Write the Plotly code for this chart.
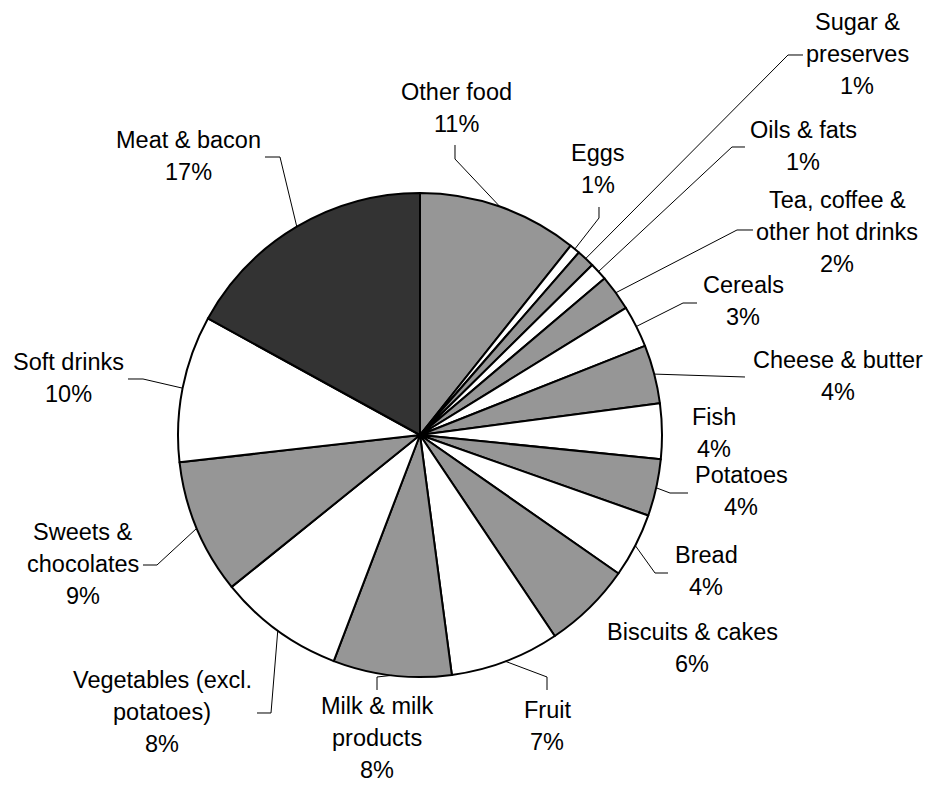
import math
import plotly.graph_objects as go

# Share of household food spending by category (per cent)
categories = [
    "Other food", "Eggs", "Sugar & preserves", "Oils & fats",
    "Tea, coffee & other hot drinks", "Cereals", "Cheese & butter", "Fish",
    "Potatoes", "Bread", "Biscuits & cakes", "Fruit", "Milk & milk products",
    "Vegetables (excl. potatoes)", "Sweets & chocolates", "Soft drinks",
    "Meat & bacon",
]
shares = [10.7, 0.7, 1.2, 1.2, 2.4, 2.8, 3.9, 3.7, 3.8, 4.3, 5.9, 7.3, 7.9,
          8.4, 9.0, 9.8, 17.0]

# Wrapped label text for each slice
label_lines = [
    ["Other food"], ["Eggs"], ["Sugar &", "preserves"], ["Oils & fats"],
    ["Tea, coffee &", "other hot drinks"], ["Cereals"], ["Cheese & butter"],
    ["Fish"], ["Potatoes"], ["Bread"], ["Biscuits & cakes"], ["Fruit"],
    ["Milk & milk", "products"], ["Vegetables (excl.", "potatoes)"],
    ["Sweets &", "chocolates"], ["Soft drinks"], ["Meat & bacon"],
]

GREY, WHITE, DARK = "#969696", "#ffffff", "#333333"
colors = [GREY, WHITE] * 8 + [DARK]

# Canvas and pie geometry (pixels)
W, H = 928, 785
CX, CY, R = 420, 435, 242
FONT_SIZE = 23.5
LINE_GAP = 32

# Label placement: centre x, y of first line, leader elbow, leader end
label_pos = [
    (456, 92, (455, 159), (455, 145)),
    (598, 153, (599, 218), (599, 207)),
    (857, 22, (788, 55), (803, 55)),
    (803, 130, (732, 147), (745, 147)),
    (837, 200, (737, 230), (753, 230)),
    (743, 285, (683, 303), (697, 303)),
    (838, 360, None, (745, 377)),
    (714, 417, None, None),
    (741, 475, (670, 493), (688, 493)),
    (706, 555, (655, 573), (668, 573)),
    (692, 632, None, None),
    (547, 710, (547, 677), (547, 690)),
    (377, 706, (377, 677), (377, 690)),
    (162, 680, (271, 713), (257, 713)),
    (83, 532, (157, 565), (143, 565)),
    (68, 362, (143, 379), (128, 379)),
    (188, 140, (280, 157), (265, 157)),
]


def px(x):
    return x / W


def py(y):
    return 1 - y / H


fig = go.Figure(
    go.Pie(
        labels=categories,
        values=shares,
        sort=False,
        direction="clockwise",
        rotation=0,
        marker=dict(colors=colors, line=dict(color="#000000", width=2)),
        textinfo="none",
        hoverinfo="label+percent",
        showlegend=False,
        domain=dict(x=[px(CX - R), px(CX + R)], y=[py(CY + R), py(CY - R)]),
    )
)

annotations = []
shapes = []
total = sum(shares)
cum = 0.0
for name, lines, v, pos in zip(categories, label_lines, shares, label_pos):
    mid = (cum + v / 2) / total * 2 * math.pi
    cum += v
    tx, ty, elbow, end = pos
    text_lines = lines + [f"{round(v / total * 100)}%"]
    for i, t in enumerate(text_lines):
        annotations.append(dict(
            x=px(tx), y=py(ty + i * LINE_GAP), xref="paper", yref="paper",
            text=t, showarrow=False, xanchor="center", yanchor="middle",
            borderpad=0,
            font=dict(family="Liberation Sans, Arial, sans-serif",
                      size=FONT_SIZE, color="#000000"),
        ))
    if end is not None:
        ex = CX + R * math.sin(mid)
        ey = CY - R * math.cos(mid)
        pts = [(ex, ey)] + ([elbow] if elbow else []) + [end]
        path = "M " + " L ".join(f"{px(a):.5f},{py(b):.5f}" for a, b in pts)
        shapes.append(dict(type="path", path=path, xref="paper", yref="paper",
                           line=dict(color="#000000", width=1)))

fig.update_layout(
    width=W, height=H,
    margin=dict(l=0, r=0, t=0, b=0),
    paper_bgcolor="#ffffff",
    plot_bgcolor="#ffffff",
    annotations=annotations,
    shapes=shapes,
)

fig.write_html("out.html")
